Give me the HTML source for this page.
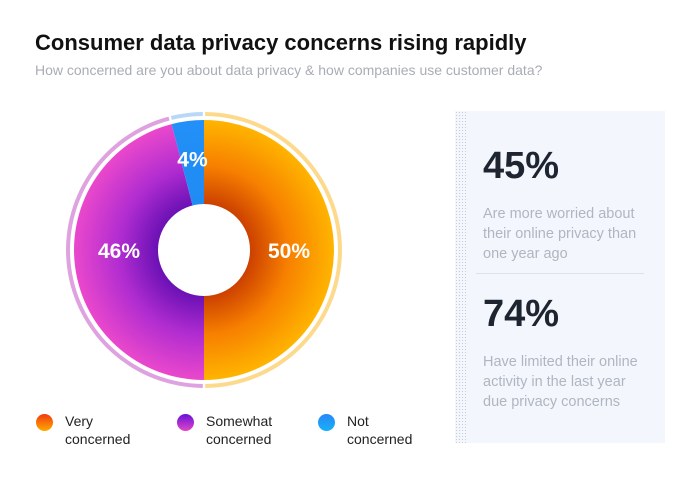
<!DOCTYPE html>
<html><head><meta charset="utf-8"><style>
body{margin:0;width:700px;height:490px;background:#fff;font-family:"Liberation Sans",sans-serif;overflow:hidden;position:relative}
.t{position:absolute;left:35px;top:30px;font-size:22px;font-weight:bold;color:#111}
.s{position:absolute;left:35px;top:62px;font-size:14px;color:#a8adb5}
.panel{position:absolute;left:455px;top:111px;width:210px;height:332px;background:#f3f7fd}
.dots{position:absolute;left:0;top:0;width:12px;height:100%;background-image:radial-gradient(#c8ccd2 0.6px,transparent 0.7px);background-size:3px 3px}
.big{position:absolute;left:28px;font-size:38px;font-weight:bold;color:#1e2430}
.txt{position:absolute;left:28px;font-size:14.5px;line-height:20px;color:#b0b5c0;width:165px}
.lg{position:absolute;top:412px;font-size:14px;line-height:18px;color:#222}
.dot{position:absolute;top:414px;width:17px;height:17px;border-radius:50%}
</style></head><body>
<div class="t">Consumer data privacy concerns rising rapidly</div>
<div class="s">How concerned are you about data privacy &amp; how companies use customer data?</div>
<svg id="pie" width="420" height="400" style="position:absolute;left:0;top:90px">
<defs>
<radialGradient id="g0" gradientUnits="userSpaceOnUse" cx="204" cy="160" r="130"><stop offset="0.3" stop-color="#c43500"/><stop offset="0.65" stop-color="#f78000"/><stop offset="1" stop-color="#ffb400"/></radialGradient>
<radialGradient id="g1" gradientUnits="userSpaceOnUse" cx="204" cy="160" r="130"><stop offset="0.3" stop-color="#5e0cb0"/><stop offset="0.65" stop-color="#b02cd0"/><stop offset="1" stop-color="#ea48cc"/></radialGradient>
<radialGradient id="g2" gradientUnits="userSpaceOnUse" cx="204" cy="160" r="130"><stop offset="0" stop-color="#1e88f0"/><stop offset="1" stop-color="#2290f8"/></radialGradient>
</defs>
</svg>
<div class="dot" style="left:36px;background:linear-gradient(#f03a10,#ffaa00)"></div>
<div class="lg" style="left:65px">Very<br>concerned</div>
<div class="dot" style="left:177px;background:linear-gradient(#6a10d8,#e048c8)"></div>
<div class="lg" style="left:206px">Somewhat<br>concerned</div>
<div class="dot" style="left:318px;background:linear-gradient(#2888f8,#18b0f8)"></div>
<div class="lg" style="left:347px">Not<br>concerned</div>
<div class="panel">
<div class="dots"></div>
<div class="big" style="top:34px">45%</div>
<div class="txt" style="top:93px">Are more worried about their online privacy than one year ago</div>
<div style="position:absolute;left:21px;top:162px;width:168px;height:1px;background:#dde2ea"></div>
<div class="big" style="top:182px">74%</div>
<div class="txt" style="top:241px">Have limited their online activity in the last year due privacy concerns</div>
</div>
<script>
const categories=["Very concerned","Somewhat concerned","Not concerned"];
const values=[50,46,4];
const labels=["50%","46%","4%"];
const ringColors=["#fdd98c","#dfa2e0","#b9d8f8"];
const svg=document.getElementById('pie');
const NS="http://www.w3.org/2000/svg";
const cx=204,cy=160,r=130,ro1=134,ro2=138,hole=46;
const total=values.reduce((a,b)=>a+b,0);
function pt(a,rad){return [cx+rad*Math.sin(a),cy-rad*Math.cos(a)];}
function arc(a0,a1,r1,r2){const l=(a1-a0)>Math.PI?1:0;const p0=pt(a0,r2),p1=pt(a1,r2),p2=pt(a1,r1),p3=pt(a0,r1);
return r1>0?`M${p0}A${r2},${r2} 0 ${l} 1 ${p1}L${p2}A${r1},${r1} 0 ${l} 0 ${p3}Z`:`M${cx},${cy}L${p0}A${r2},${r2} 0 ${l} 1 ${p1}Z`;}
let a=0;
values.forEach((v,i)=>{
 const a1=a+v/total*2*Math.PI;
 const p=document.createElementNS(NS,'path');
 p.setAttribute('d',arc(a,a1,0,r));p.setAttribute('fill',`url(#g${i})`);
 
 
 svg.appendChild(p);
 const g=1.2/ro2;
 const q=document.createElementNS(NS,'path');
 q.setAttribute('d',arc(a+g,a1-g,ro1,ro2));q.setAttribute('fill',ringColors[i]);
 
 
 svg.appendChild(q);
 const mid=(a+a1)/2;
 let lp;
 if(v>=25){const s=Math.sin(mid)>=0?1:-1;lp=[cx+s*85,cy];}else{lp=pt(mid,92);}
 const t=document.createElementNS(NS,'text');
 t.setAttribute('x',lp[0]);t.setAttribute('y',lp[1]+8);t.setAttribute('text-anchor','middle');
 t.setAttribute('fill','#fff');t.setAttribute('font-size','21');t.setAttribute('font-weight','bold');
 t.setAttribute('font-family','Liberation Sans, sans-serif');
 t.textContent=labels[i];
 
 
 svg.appendChild(t);
 a=a1;
});
const c=document.createElementNS(NS,'circle');
c.setAttribute('cx',cx);c.setAttribute('cy',cy);c.setAttribute('r',hole);c.setAttribute('fill','#fff');


svg.appendChild(c);
</script>
</body></html>
